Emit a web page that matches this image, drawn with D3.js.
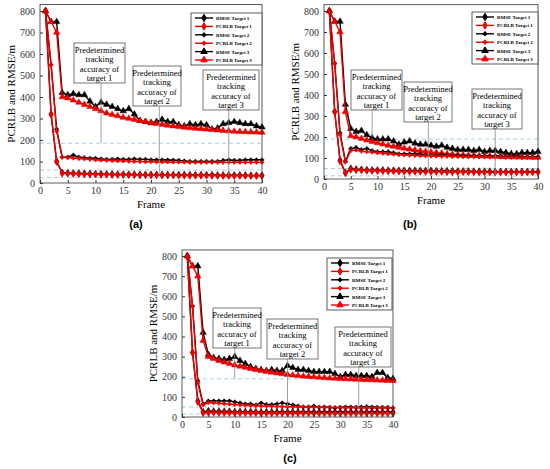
<!DOCTYPE html>
<html><head><meta charset="utf-8">
<script src="https://cdn.jsdelivr.net/npm/d3@7"></script>
<style>body{margin:0;background:#fff}text{font-family:"Liberation Serif",serif}</style>
</head><body><svg id="fig" width="550" height="469"></svg>
<script>
var frames = d3.range(1, 41);
var seriesNames = ["RMSE Target 1","PCRLB Target 1","RMSE Target 2","PCRLB Target 2","RMSE Target 3","PCRLB Target 3"];
var annotationText = ["Predetermined","tracking","accuracy of"];

var aRmse1 = [800,320,100,48,47,46,45,44,43,42,42,41,41,40,40,40,40,39,39,39,39,38,38,38,38,38,37,37,37,37,37,36,36,36,36,36,36,35,35,35];
var aPcrlb1 = [800,320,100,45,44,43,42,41,40,40,39,39,38,38,38,37,37,37,37,36,36,36,36,36,35,35,35,35,35,35,35,34,34,34,34,34,34,34,34,34];
var aRmse2 = [800,550,250,120,120,130,120,118,115,115,112,110,110,112,110,110,112,110,110,108,108,108,107,106,105,103,100,100,100,100,100,100,105,108,105,105,108,108,108,108];
var aPcrlb2 = [800,550,240,120,118,116,114,112,110,108,106,105,104,103,102,101,100,100,99,99,98,98,98,97,97,97,96,96,96,96,96,96,96,96,96,96,96,96,96,96];
var aRmse3 = [800,750,750,420,410,415,410,410,380,355,375,365,355,345,335,345,320,290,285,280,285,295,285,285,270,265,275,270,275,270,250,255,275,280,285,280,275,275,265,260];
var aPcrlb3 = [800,750,700,400,395,385,375,365,355,345,335,325,318,312,305,300,295,290,285,280,276,272,268,265,262,259,256,254,252,250,248,246,244,242,240,239,238,237,236,235];
var aThresholds = [185, 60, 25];

var bRmse1 = [800,320,90,30,50,46,45,43,42,42,42,41,41,40,40,40,40,39,39,39,38,38,38,38,37,37,37,36,36,36,36,35,35,35,35,35,35,35,35,35];
var bPcrlb1 = [800,320,85,28,45,43,42,40,39,38,38,37,37,36,36,35,35,35,34,34,34,34,33,33,33,33,33,33,32,32,32,32,32,32,32,32,32,32,32,32];
var bRmse2 = [800,550,220,85,145,150,140,145,135,130,130,130,125,120,120,120,120,118,115,112,112,115,112,110,112,110,110,110,108,108,108,108,108,107,106,106,105,105,105,105];
var bPcrlb2 = [800,550,210,80,135,138,132,130,128,125,122,120,118,116,114,113,112,111,110,110,109,108,108,107,107,106,106,105,105,105,104,104,104,103,103,103,102,102,102,102];
var bRmse3 = [800,750,750,355,240,225,230,210,195,190,190,190,180,165,175,180,170,165,165,160,155,160,150,145,140,140,140,135,140,130,135,135,130,125,120,120,125,125,125,130];
var bPcrlb3 = [800,750,700,320,205,200,192,185,178,172,166,160,155,150,146,142,138,134,131,128,125,123,120,118,116,115,113,112,111,110,109,108,107,106,105,105,104,104,103,103];
var bThresholds = [190, 50, 15];

var cRmse1 = [800,320,80,25,30,28,28,27,27,26,26,26,26,25,25,25,25,25,25,25,25,25,25,25,25,25,25,25,25,25,25,25,25,25,25,25,25,25,25,25];
var cPcrlb1 = [800,320,75,20,22,22,21,21,21,20,20,20,20,20,19,19,19,19,19,19,19,19,19,19,18,18,18,18,18,18,18,18,18,18,18,18,18,18,18,18];
var cRmse2 = [800,550,180,65,80,80,80,80,80,75,70,65,65,60,70,62,62,65,70,65,60,55,50,50,55,48,50,48,45,48,50,50,48,50,52,50,48,48,48,45];
var cPcrlb2 = [800,550,170,60,72,70,68,66,64,62,60,58,57,56,55,54,53,52,52,51,51,50,50,49,49,48,48,47,47,47,46,46,46,45,45,45,45,45,45,45];
var cRmse3 = [800,750,750,420,310,295,290,285,290,300,280,265,250,240,235,230,235,230,230,255,245,235,235,230,225,225,225,225,215,200,210,210,205,205,205,200,220,220,195,190];
var cPcrlb3 = [800,750,700,380,300,290,280,272,265,258,252,246,240,235,230,226,222,218,214,211,208,205,203,201,199,197,195,193,192,190,189,188,187,186,185,184,183,182,181,180];
var cThresholds = [190, 50, 15];

var svg = d3.select("#fig");
var colors = ["#000","#e00","#000","#e00","#000","#e00"];
var shapes = [d3.symbolDiamond,d3.symbolDiamond,d3.symbolCross,d3.symbolCross,d3.symbolTriangle,d3.symbolTriangle];
var sizes = [16,16,8,8,18,18];

function drawPanel(p, data, thresholds, annots, label){
    var x = d3.scaleLinear().domain([0, 40]).range([p.x0, p.x1]);
    var y = d3.scaleLinear().domain([0, 800]).range([p.y0, p.y800]);
    var top = y(830);
    var g = svg.append("g");

    thresholds.forEach(function(t){
        g.append("line").attr("x1", p.x0).attr("x2", p.x1).attr("y1", y(t)).attr("y2", y(t))
            .attr("stroke", "#8fc4d8").attr("stroke-width", 0.8).attr("stroke-dasharray", "4,3");
    });

    var line = d3.line().x(function(d, i){ return x(frames[i]); }).y(function(d){ return y(d); });
    [4,5,2,3,0,1].forEach(function(k){
        g.append("path").datum(data[k]).attr("d", line).attr("fill", "none")
            .attr("stroke", colors[k]).attr("stroke-width", 1.4);
        g.selectAll(null).data(data[k]).enter().append("path")
            .attr("transform", function(d, i){ return "translate(" + x(frames[i]) + "," + y(d) + ")"; })
            .attr("d", d3.symbol().type(shapes[k]).size(sizes[k]))
            .attr("fill", colors[k]).attr("stroke", colors[k]).attr("stroke-width", 0.5);
    });

    g.append("rect").attr("x", p.x0).attr("y", top).attr("width", p.x1 - p.x0).attr("height", p.y0 - top)
        .attr("fill", "none").attr("stroke", "#333").attr("stroke-width", 0.8);

    var xa = g.append("g").attr("transform", "translate(0," + p.y0 + ")")
        .call(d3.axisBottom(x).tickValues(d3.range(0, 41, 5)).tickSize(-3).tickPadding(4));
    var ya = g.append("g").attr("transform", "translate(" + p.x0 + ",0)")
        .call(d3.axisLeft(y).tickValues(d3.range(0, 801, 100)).tickSize(-3).tickPadding(5));
    [xa, ya].forEach(function(a){
        a.select(".domain").remove();
        a.selectAll("text").style("font-size", "10px").style("font-family", "Liberation Serif").attr("fill", "#333");
        a.selectAll("line").attr("stroke", "#333");
    });

    g.append("text").attr("x", (p.x0 + p.x1) / 2).attr("y", p.y0 + 25).attr("text-anchor", "middle")
        .style("font-size", "11px").text("Frame");
    g.append("text").attr("transform", "translate(" + (p.x0 - 25) + "," + ((p.y0 + top) / 2) + ") rotate(-90)")
        .attr("text-anchor", "middle").style("font-size", "11px").text("PCRLB and RMSE/m");

    annots.forEach(function(a, i){
        g.append("line").attr("x1", x(a.fx)).attr("x2", x(a.fx)).attr("y1", a.by + 40).attr("y2", y(a.fy))
            .attr("stroke", "#888").attr("stroke-width", 0.8);
        g.append("rect").attr("x", a.bx).attr("y", a.by).attr("width", a.bw).attr("height", 40)
            .attr("fill", "#fff").attr("stroke", "#555").attr("stroke-width", 0.8);
        annotationText.concat(["target " + (i + 1)]).forEach(function(t, j){
            g.append("text").attr("x", a.bx + a.bw / 2).attr("y", a.by + 10 + j * 9.3).attr("text-anchor", "middle")
                .style("font-size", "8.5px").text(t);
        });
    });

    var lg = g.append("g").attr("transform", "translate(" + p.lx + "," + p.ly + ")");
    lg.append("rect").attr("width", p.lw).attr("height", 52).attr("fill", "#fff").attr("stroke", "#333").attr("stroke-width", 0.8);
    seriesNames.forEach(function(n, k){
        var yy = 5 + k * 8.4;
        lg.append("line").attr("x1", 4).attr("x2", 22).attr("y1", yy).attr("y2", yy).attr("stroke", colors[k]).attr("stroke-width", 1.4);
        lg.append("path").attr("transform", "translate(13," + yy + ")").attr("d", d3.symbol().type(shapes[k]).size(sizes[k]))
            .attr("fill", colors[k]).attr("stroke", colors[k]);
        lg.append("text").attr("x", 25).attr("y", yy + 2).style("font-size", "5px").style("font-weight", "bold").text(n);
    });

    g.append("text").attr("x", p.labx).attr("y", p.laby).attr("text-anchor", "middle")
        .style("font-size", "11px").style("font-weight", "bold").style("font-family", "Liberation Sans").text(label);
}

drawPanel({x0: 40, x1: 262, y0: 183, y800: 11, lx: 191, ly: 13, lw: 71, labx: 136, laby: 228},
    [aRmse1, aPcrlb1, aRmse2, aPcrlb2, aRmse3, aPcrlb3], aThresholds,
    [{bx: 74, by: 43, bw: 51, fx: 11, fy: 185}, {bx: 133, by: 66, bw: 48, fx: 21.5, fy: 38}, {bx: 203, by: 70, bw: 56, fx: 34, fy: 35}], "(a)");
drawPanel({x0: 324, x1: 538, y0: 179, y800: 11, lx: 472, ly: 12, lw: 66, labx: 410, laby: 228},
    [bRmse1, bPcrlb1, bRmse2, bPcrlb2, bRmse3, bPcrlb3], bThresholds,
    [{bx: 351, by: 70, bw: 51, fx: 9, fy: 200}, {bx: 404, by: 82, bw: 48, fx: 19.5, fy: 30}, {bx: 472, by: 89, bw: 50, fx: 32, fy: 15}], "(b)");
drawPanel({x0: 182, x1: 393, y0: 417, y800: 256, lx: 327, ly: 258, lw: 65, labx: 290, laby: 462},
    [cRmse1, cPcrlb1, cRmse2, cPcrlb2, cRmse3, cPcrlb3], cThresholds,
    [{bx: 213, by: 308, bw: 48, fx: 10, fy: 190}, {bx: 267, by: 319, bw: 51, fx: 20, fy: 50}, {bx: 335, by: 327, bw: 56, fx: 33.5, fy: 15}], "(c)");
</script></body></html>
